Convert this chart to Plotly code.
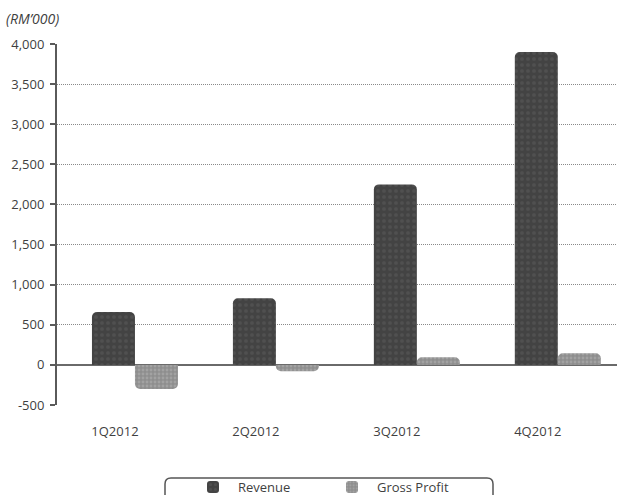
import plotly.graph_objects as go

quarters = ["1Q2012", "2Q2012", "3Q2012", "4Q2012"]
revenue = [660, 830, 2250, 3900]
gross_profit = [-300, -80, 95, 145]
y_ticks = [-500, 0, 500, 1000, 1500, 2000, 2500, 3000, 3500, 4000]
y_labels = ["-500", "0", "500", "1,000", "1,500", "2,000", "2,500", "3,000", "3,500", "4,000"]

FONT = "Open Sans"
TXT = "#3f3f3f"

W, H = 617, 495
ML, MR, MT, MB = 57, 0, 44, 90
PW, PH = W - ML - MR, H - MT - MB


def px_x(p):
    return (p - ML) / PW


def px_y(p):
    return (H - MB - p) / PH


fig = go.Figure()
fig.add_trace(go.Bar(
    x=quarters, y=revenue, name="Revenue",
    marker=dict(color="#474747", line=dict(width=0),
                pattern=dict(shape=".", fgcolor="#5e5e5e", bgcolor="#434343", size=6, solidity=0.3)),
))
fig.add_trace(go.Bar(
    x=quarters, y=gross_profit, name="Gross Profit",
    marker=dict(color="#9a9a9a", line=dict(width=0),
                pattern=dict(shape=".", fgcolor="#b5b5b5", bgcolor="#8e8e8e", size=4, solidity=0.4)),
))

# rounded legend frame (decoration)
x0, x1, y0, y1 = px_x(165), px_x(493), px_y(478), px_y(510)
rx, ry = 6 / PW, 6 / PH
frame = (f"M {x0},{y1} L {x0},{y0 - ry} Q {x0},{y0} {x0 + rx},{y0} "
         f"L {x1 - rx},{y0} Q {x1},{y0} {x1},{y0 - ry} L {x1},{y1}")

fig.update_layout(
    width=W, height=H,
    margin=dict(l=ML, r=MR, t=MT, b=MB, autoexpand=False),
    paper_bgcolor="white", plot_bgcolor="white",
    barmode="group", bargap=0.39, bargroupgap=0,
    barcornerradius=5,
    font=dict(family=FONT, size=13, color=TXT),
    showlegend=True,
    legend=dict(orientation="h", xref="container", yref="container",
                x=188 / W, xanchor="left", y=(H - 487) / H, yanchor="middle",
                borderwidth=0, bgcolor="rgba(0,0,0,0)",
                font=dict(family=FONT, size=13, color=TXT),
                itemwidth=40, entrywidthmode="pixels", entrywidth=84),
    shapes=[dict(type="path", path=frame, xref="paper", yref="paper",
                 line=dict(color="#555555", width=1.5), layer="above")],
    annotations=[dict(text="<i>(RM’000)</i>", xref="paper", yref="paper",
                      x=px_x(4), y=px_y(18), xanchor="left", yanchor="middle",
                      showarrow=False, font=dict(family=FONT, size=14, color=TXT))],
)

fig.update_xaxes(
    type="category", range=[-0.553, 3.42],
    showgrid=False, showline=False, ticks="",
    ticklabelstandoff=17, ticklabelshift=-20,
    tickfont=dict(family=FONT, size=13, color=TXT),
)
fig.update_yaxes(
    range=[-500, 4000], tickvals=y_ticks, ticktext=y_labels,
    showgrid=True, gridcolor="#8a8a8a", griddash="1px,1px", gridwidth=1,
    zeroline=True, zerolinecolor="#6a6a6a", zerolinewidth=2,
    showline=True, linecolor="#5a5a5a", linewidth=2,
    ticks="outside", ticklen=5, tickwidth=2, tickcolor="#5a5a5a",
    ticklabelstandoff=3,
    tickfont=dict(family=FONT, size=13, color=TXT),
)

fig.write_html("out.html")
